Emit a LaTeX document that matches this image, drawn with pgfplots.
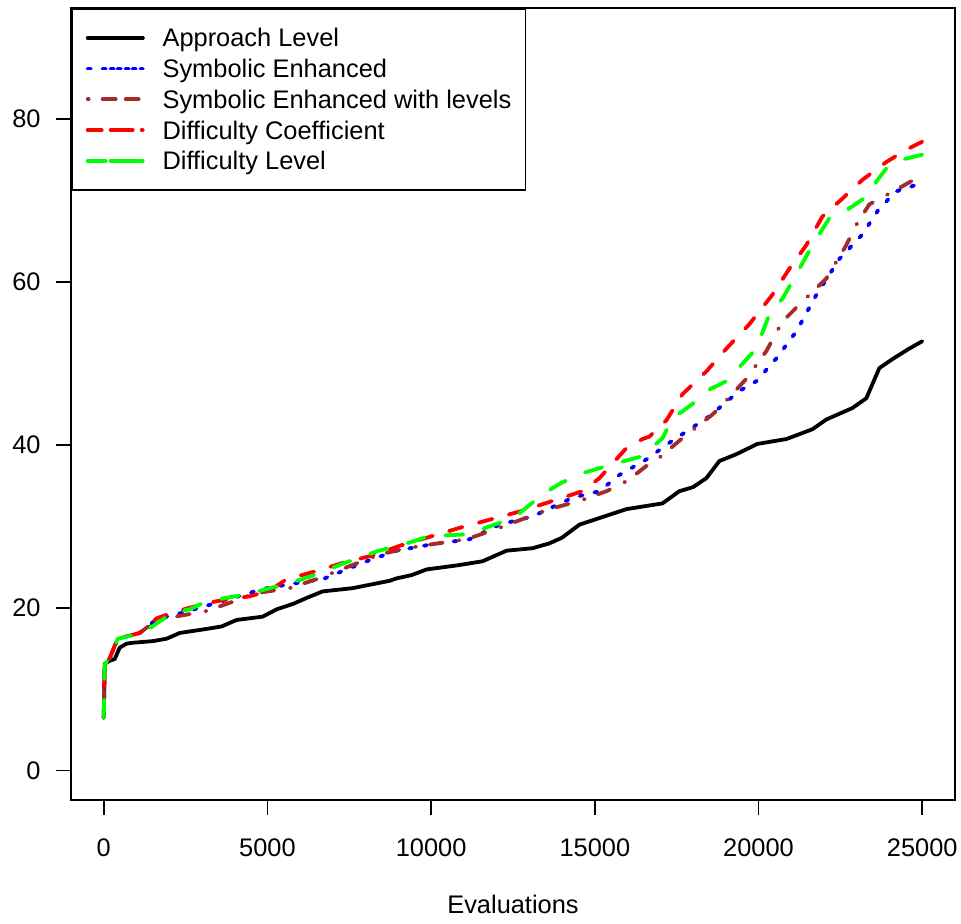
\documentclass[border=0pt]{standalone}
\usepackage{fontspec}
\setmainfont{Liberation Sans}
\usepackage{pgfplots}
\pgfplotsset{compat=1.18}
\definecolor{rblue}{RGB}{0,0,255}
\definecolor{rbrown}{RGB}{165,42,42}
\definecolor{rred}{RGB}{255,0,0}
\definecolor{rgreen}{RGB}{0,255,0}
\begin{document}
\fontsize{12.7}{15}\selectfont
\begin{tikzpicture}
\useasboundingbox (-35.5pt,-61.5pt) rectangle (445pt,400pt);
\begin{axis}[
  scale only axis,
  width=442pt, height=396pt,
  at={(0pt,0pt)}, anchor=south west,
  xmin=-1000, xmax=26000,
  ymin=-3.6, ymax=93.6,
  xtick={0,5000,10000,15000,20000,25000},
  ytick={0,20,40,60,80},
  scaled x ticks=false,
  /pgf/number format/1000 sep={},
  /pgf/number format/assume math mode=true,
  tick align=outside,
  major tick length=7.5pt,
  xtick pos=bottom, ytick pos=left,
  axis line style={line width=0.8pt},
  every tick/.style={black, line width=0.8pt},
  tick label style={font=\fontsize{12.7}{15}\selectfont},
  xticklabel style={anchor=north, inner sep=0pt, yshift=-11.5pt},
  yticklabel style={anchor=east, inner sep=0pt, xshift=-7.5pt},
  xlabel={Evaluations},
  xlabel style={font=\fontsize{12.7}{15}\selectfont, at={(axis description cs:0.5,0)}, anchor=north, inner sep=0pt, yshift=-47.5pt},
  legend cell align=left,
  legend image code/.code={\path (0pt,0pt) -- (27.5pt,0pt); \draw[#1] (11.5pt,0pt) -- (27.5pt,0pt);},
  legend style={at={(0,1)}, anchor=north west, draw=black, line width=0.8pt, fill=white,
    font=\fontsize{12.7}{15}\selectfont, inner xsep=7pt, inner ysep=10pt,
    row sep=6.4pt, column sep=9pt,
    nodes={inner sep=0pt, text height=9pt, text depth=0pt}},
]
% Approach Level
\addplot[black, line width=1.9pt, line cap=round, line join=round] coordinates {
(0,6.5) (30,13.1) (183,13.5) (336,13.7) (488,15.1) (702,15.6) (885,15.7) (1500,15.9) (1923,16.2)
(2320,16.9) (3144,17.4) (3600,17.7) (4060,18.5) (4853,18.9) (5281,19.8) (5800,20.5) (6197,21.2)
(6685,22.0) (7600,22.4) (8730,23.3) (8944,23.6) (9400,24.0) (9860,24.7) (10800,25.2) (11569,25.7)
(12302,27.0) (13095,27.3) (13614,27.9) (14000,28.6) (14530,30.2) (15140,31.0) (15964,32.1)
(17063,32.8) (17582,34.3) (18000,34.8) (18406,35.9) (18803,38.0) (19300,38.8) (19963,40.1)
(20848,40.7) (21643,41.9) (22070,43.1) (22863,44.5) (23291,45.7) (23688,49.4) (24085,50.5)
(24603,51.8) (25000,52.7)
};
\addlegendentry{Approach Level}
% Symbolic Enhanced
\addplot[rblue, line width=1.9pt, line cap=round, line join=round, dash pattern=on 1.5pt off 6pt] coordinates {
(0,6.5) (30,13.0) (183,13.8) (275,14.7) (427,16.2) (1100,16.9) (1618,18.6) (2320,19.3) (3449,20.6)
(4853,22.3) (5678,22.9) (6685,23.5) (8028,25.7) (8944,27.0) (10043,27.8) (11172,28.4)
(12088,30.2) (13095,31.2) (14316,33.5) (15140,34.3) (15751,36.3) (16575,38.2) (17368,40.5)
(17674,41.3) (18498,43.5) (19414,46.6) (19933,47.8) (20543,50.6) (21154,53.9) (21765,58.4)
(22467,62.8) (23169,65.8) (23688,69.0) (24207,71.1) (24817,71.9) (25000,72.3)
};
\addlegendentry{Symbolic Enhanced}
% Symbolic Enhanced with levels
\addplot[rbrown, line width=1.9pt, line cap=round, line join=round, dash pattern=on 0.5pt off 7pt on 6.5pt off 8pt] coordinates {
(0,6.5) (30,13.0) (183,13.8) (275,14.7) (427,16.2) (1100,16.9) (1618,18.5) (2320,19.0) (3144,19.6)
(3846,20.6) (4670,21.8) (5678,22.4) (6502,23.5) (7509,25.1) (8400,26.5) (9249,27.3) (10043,27.8)
(11081,28.4) (12088,29.8) (13004,31.2) (13614,32.1) (14530,33.1) (15354,34.3) (16000,35.6)
(16575,37.4) (16758,37.7) (17674,40.8) (18589,43.7) (18803,44.5) (19628,48.1) (20238,51.5)
(20726,55.1) (21245,57.2) (22070,60.4) (22680,64.5) (22986,67.0) (23383,69.5) (24207,71.3)
(25000,73.1)
};
\addlegendentry{Symbolic Enhanced with levels}
% Difficulty Coefficient
\addplot[rred, line width=1.9pt, line cap=round, line join=round, dash pattern=on 7pt off 8.5pt] coordinates {
(0,6.5) (30,13.0) (183,13.8) (300,15.0) (427,16.2) (1100,16.9) (1618,18.7) (2106,19.4) (2625,20.0)
(3449,20.8) (4457,21.4) (5067,22.1) (5586,23.5) (6502,24.5) (7296,25.5) (8300,26.5) (9036,27.6)
(10043,28.8) (10867,29.8) (11874,30.9) (12790,31.9) (13706,33.1) (14622,34.3) (15140,35.9)
(15964,39.6) (16453,40.7) (16666,41.0) (17185,43.0) (17674,46.2) (18406,49.0) (19017,51.8)
(19719,54.8) (20421,58.4) (20940,61.6) (21459,64.5) (21948,68.0) (22558,70.2) (23169,72.5)
(23902,74.7) (24512,76.2) (25000,77.2)
};
\addlegendentry{Difficulty Coefficient}
% Difficulty Level
\addplot[rgreen, line width=1.9pt, line cap=round, line join=round, dash pattern=on 9pt off 10.5pt] coordinates {
(0,6.5) (30,13.0) (183,13.8) (275,14.7) (427,16.2) (1190,16.9) (2106,19.4) (2625,19.8) (3144,20.8)
(4457,21.7) (5067,22.4) (5678,23.0) (6502,24.1) (7296,25.4) (8400,27.0) (9036,27.6) (9951,28.8)
(11081,29.0) (12088,30.4) (12699,31.6) (13400,33.9) (13919,35.2) (14530,36.4) (15537,37.6)
(16453,38.6) (17063,40.8) (17368,43.2) (17979,45.0) (18406,46.6) (19017,47.8) (19200,48.6)
(19933,51.8) (20330,56.0) (20726,57.9) (21154,60.9) (21643,64.5) (22162,67.8) (22772,69.0)
(23383,70.7) (23597,72.3) (23902,73.9) (24390,75.0) (25000,75.6)
};
\addlegendentry{Difficulty Level}
\end{axis}
\end{tikzpicture}
\end{document}
